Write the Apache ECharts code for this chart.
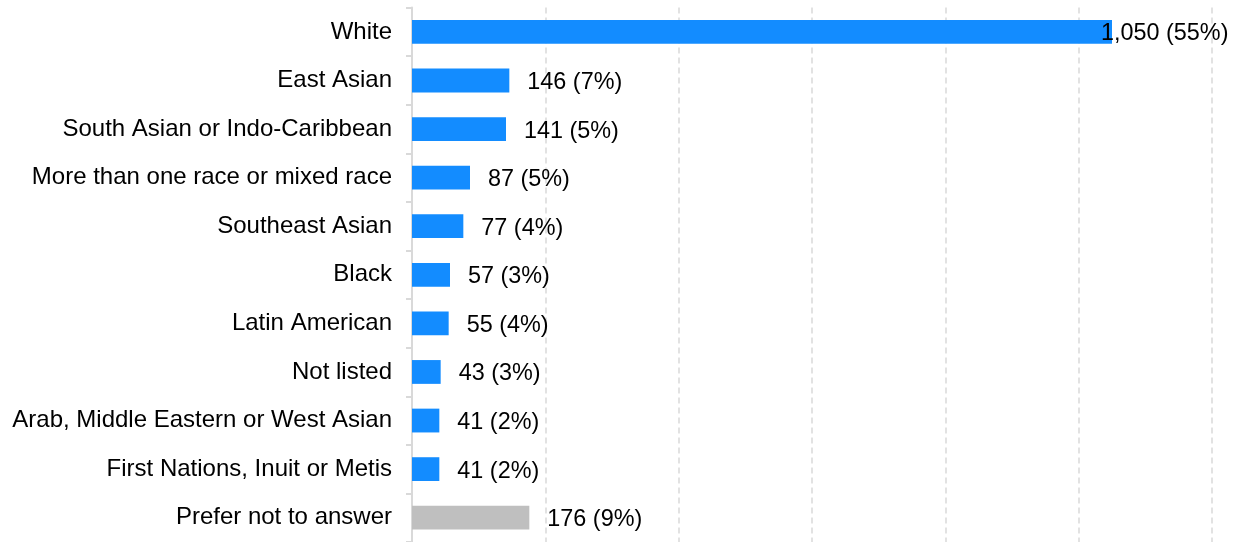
<!DOCTYPE html>
<html>
<head>
<meta charset="utf-8">
<script src="https://cdn.jsdelivr.net/npm/echarts@6/dist/echarts.min.js"></script>
<style>
  html, body { margin: 0; padding: 0; background: #ffffff; }
  #chart { width: 1240px; height: 542px; }
</style>
</head>
<body>
<div id="chart"></div>
<script>
// Respondents by racial / ethnic identity
const categories = [
  'White',
  'East Asian',
  'South Asian or Indo-Caribbean',
  'More than one race or mixed race',
  'Southeast Asian',
  'Black',
  'Latin American',
  'Not listed',
  'Arab, Middle Eastern or West Asian',
  'First Nations, Inuit or Metis',
  'Prefer not to answer'
];
const counts = [1050, 146, 141, 87, 77, 57, 55, 43, 41, 41, 176];
const percents = [55, 7, 5, 5, 4, 3, 4, 3, 2, 2, 9];
const xTicks = [0, 200, 400, 600, 800, 1000, 1200];

const BLUE = '#138cff';
const GREY = '#bfbfbf';
const FONT = 'Liberation Sans, Arial, sans-serif';

const seriesData = counts.map((v, i) => {
  const item = {
    value: v,
    itemStyle: { color: categories[i] === 'Prefer not to answer' ? GREY : BLUE }
  };
  // the longest bar's label is pulled back so it stays inside the canvas
  if (i === 0) item.label = { offset: [-29, 2] };
  return item;
});

const chart = echarts.init(document.getElementById('chart'));
chart.setOption({
  animation: false,
  grid: { left: 412, right: 28, top: 7.6, height: 537, containLabel: false },
  xAxis: {
    type: 'value',
    min: xTicks[0],
    max: xTicks[xTicks.length - 1],
    interval: xTicks[1] - xTicks[0],
    axisLabel: { show: false },
    axisLine: { show: false },
    axisTick: { show: false },
    splitLine: {
      show: true,
      lineStyle: { color: '#d9d9d9', width: 1.5, type: [6, 4] }
    }
  },
  yAxis: {
    type: 'category',
    inverse: true,
    data: categories,
    axisLine: { show: true, lineStyle: { color: '#d9d9d9', width: 2 } },
    axisTick: { show: true, length: 6, lineStyle: { color: '#d9d9d9', width: 2 } },
    axisLabel: {
      margin: 20,
      fontFamily: FONT,
      fontSize: 24,
      color: '#000000',
      padding: [3, 0, 0, 0]
    },
    splitLine: { show: false }
  },
  series: [{
    type: 'bar',
    data: seriesData,
    barWidth: '49%',
    label: {
      show: true,
      position: 'right',
      distance: 18,
      offset: [0, 2],
      fontFamily: FONT,
      fontSize: 23.4,
      color: '#000000',
      formatter: p => p.value.toLocaleString('en-US') + ' (' + percents[p.dataIndex] + '%)'
    }
  }]
});
</script>
</body>
</html>
